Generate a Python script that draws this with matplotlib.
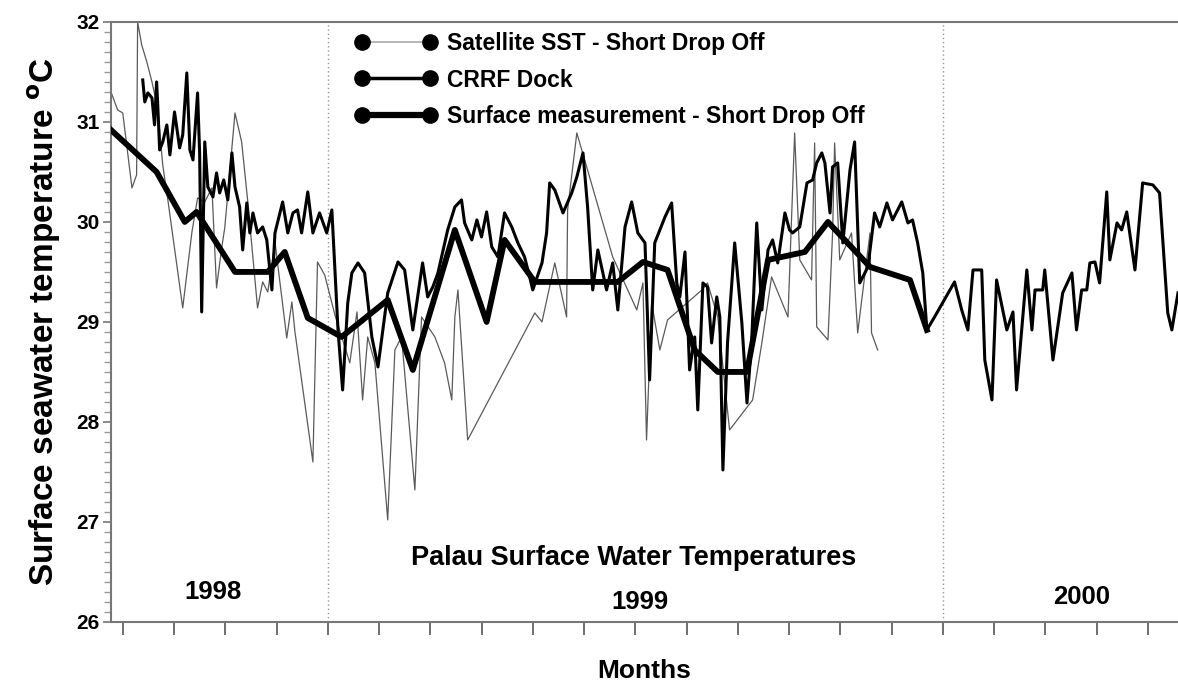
"""
Palau surface water temperatures, Sep 1998 - May 2000.
x axis is in months counted from Jan 1998 (12 = Jan 1999, 24 = Jan 2000).
"""
import matplotlib
matplotlib.use('Agg')
import matplotlib.pyplot as plt
from matplotlib.lines import Line2D
from matplotlib.ticker import MultipleLocator

plt.rcParams['font.family'] = ['Liberation Sans', 'DejaVu Sans']

# Satellite SST - Short Drop Off (thin grey)
sat_month = [7.77, 7.90, 8.00, 8.18, 8.27, 8.29, 8.37, 8.47, 8.57, 8.68, 8.78, 8.88,
             9.17, 9.35, 9.46, 9.60, 9.74, 9.83, 9.93, 9.99, 10.19, 10.32, 10.44,
             10.63, 10.73, 10.83, 10.97, 11.20, 11.30, 11.36, 11.71, 11.80, 11.94,
             12.14, 12.43, 12.57, 12.68, 12.78, 12.92, 13.17, 13.31, 13.44, 13.70,
             13.83, 14.09, 14.28, 14.42, 14.48, 14.54, 14.73, 16.04, 16.18, 16.43,
             16.66, 16.68, 16.86, 17.56, 18.03, 18.15, 18.22, 18.32, 18.48, 18.63,
             19.30, 19.41, 19.61, 19.84, 20.29, 20.47, 20.66, 20.98, 21.11, 21.21,
             21.44, 21.50, 21.54, 21.76, 21.85, 21.89, 21.99, 22.22, 22.34, 22.58,
             22.61, 22.73]
sat_temp = [31.30, 31.12, 31.09, 30.34, 30.47, 32.00, 31.77, 31.60, 31.40, 31.14, 30.57,
            30.22, 29.14, 29.90, 30.24, 30.20, 30.34, 29.34, 29.74, 29.94, 31.09, 30.80,
            30.20, 29.14, 29.40, 29.30, 29.80, 28.84, 29.20, 28.90, 27.60, 29.60, 29.47,
            29.07, 28.59, 29.10, 28.22, 28.85, 28.59, 27.02, 28.72, 28.85, 27.32, 29.05,
            28.85, 28.59, 28.22, 29.05, 29.32, 27.82, 29.09, 29.00, 29.59, 29.05, 30.12,
            30.89, 29.65, 29.12, 29.39, 27.82, 29.19, 28.72, 29.02, 29.32, 29.39, 29.05,
            27.92, 28.22, 28.79, 29.45, 29.05, 30.89, 29.62, 29.42, 30.79, 28.95, 28.82,
            29.89, 30.79, 29.62, 29.89, 28.89, 29.89, 28.89, 28.72]

# CRRF Dock (medium black)
dock_month = [8.39, 8.43, 8.49, 8.57, 8.62, 8.66, 8.68, 8.72, 8.78, 8.86, 8.92, 9.01,
              9.11, 9.17, 9.25, 9.31, 9.37, 9.46, 9.50, 9.54, 9.60, 9.66, 9.76, 9.83,
              9.89, 9.97, 10.05, 10.13, 10.19, 10.28, 10.34, 10.42, 10.48, 10.54, 10.63,
              10.73, 10.81, 10.91, 10.97, 11.12, 11.22, 11.32, 11.41, 11.49, 11.61,
              11.71, 11.84, 11.98, 12.08, 12.20, 12.29, 12.39, 12.47, 12.59, 12.72,
              12.86, 12.98, 13.17, 13.37, 13.50, 13.66, 13.85, 13.95, 14.05, 14.15,
              14.34, 14.48, 14.61, 14.67, 14.81, 14.91, 15.00, 15.10, 15.20, 15.32,
              15.45, 15.59, 15.71, 15.84, 15.94, 16.00, 16.18, 16.27, 16.33, 16.43,
              16.59, 16.76, 16.86, 16.98, 17.07, 17.17, 17.27, 17.44, 17.56, 17.66,
              17.80, 17.93, 18.05, 18.19, 18.28, 18.38, 18.58, 18.71, 18.81, 18.87,
              18.97, 19.06, 19.16, 19.22, 19.32, 19.41, 19.49, 19.59, 19.65, 19.71,
              19.80, 19.94, 20.08, 20.18, 20.27, 20.37, 20.47, 20.59, 20.68, 20.78,
              20.92, 21.01, 21.07, 21.21, 21.35, 21.46, 21.54, 21.64, 21.70, 21.80,
              21.85, 21.95, 22.05, 22.19, 22.28, 22.38, 22.54, 22.67, 22.77, 22.91,
              23.02, 23.20, 23.32, 23.41, 23.51, 23.61, 23.69, 23.84, 24.23, 24.37,
              24.49, 24.59, 24.76, 24.82, 24.96, 25.05, 25.25, 25.37, 25.44, 25.64,
              25.74, 25.80, 25.95, 25.99, 26.15, 26.34, 26.52, 26.61, 26.71, 26.81,
              26.87, 26.97, 27.06, 27.20, 27.26, 27.40, 27.49, 27.59, 27.75, 27.90,
              28.10, 28.23, 28.39, 28.47, 28.59]
dock_temp = [31.42, 31.20, 31.29, 31.24, 30.97, 31.40, 31.20, 30.72, 30.80, 30.97, 30.67,
             31.10, 30.74, 30.87, 31.49, 30.72, 30.62, 31.29, 30.69, 29.10, 30.80, 30.35,
             30.25, 30.49, 30.29, 30.42, 30.22, 30.69, 30.35, 30.15, 29.72, 30.19, 29.89,
             30.09, 29.89, 29.95, 29.82, 29.32, 29.89, 30.20, 29.89, 30.09, 30.12, 29.89,
             30.30, 29.89, 30.09, 29.89, 30.12, 28.92, 28.32, 29.19, 29.49, 29.59, 29.49,
             28.85, 28.55, 29.29, 29.60, 29.52, 28.92, 29.59, 29.25, 29.35, 29.49, 29.92,
             30.15, 30.22, 29.99, 29.82, 30.02, 29.85, 30.10, 29.75, 29.65, 30.09, 29.95,
             29.79, 29.65, 29.45, 29.32, 29.59, 29.89, 30.39, 30.32, 30.09, 30.29, 30.45,
             30.69, 30.15, 29.32, 29.72, 29.32, 29.59, 29.12, 29.95, 30.20, 29.89, 29.79,
             28.42, 29.79, 30.05, 30.19, 29.39, 29.25, 29.70, 28.52, 28.85, 28.12, 29.39,
             29.35, 28.79, 29.25, 29.05, 27.52, 28.79, 29.79, 28.99, 28.19, 28.79, 29.99,
             29.12, 29.72, 29.82, 29.59, 30.09, 29.92, 29.89, 29.95, 30.39, 30.42, 30.59,
             30.69, 30.59, 30.09, 30.55, 30.59, 29.79, 30.52, 30.80, 29.39, 29.55, 30.09,
             29.95, 30.19, 30.02, 30.20, 29.99, 30.02, 29.79, 29.49, 28.92, 29.05, 29.40,
             29.12, 28.92, 29.52, 29.52, 28.62, 28.22, 29.42, 28.92, 29.10, 28.32, 29.52,
             28.92, 29.32, 29.32, 29.52, 28.62, 29.29, 29.49, 28.92, 29.32, 29.32, 29.59,
             29.60, 29.39, 30.30, 29.62, 29.99, 29.92, 30.10, 29.52, 30.39, 30.37, 30.29,
             29.09, 28.92, 29.29]

# Surface measurement - Short Drop Off (thick black)
surf_month = [7.77, 8.66, 9.21, 9.44, 10.19, 10.83, 11.16, 11.61, 12.27, 13.17, 13.66,
              14.48, 15.10, 15.45, 16.04, 17.66, 18.15, 18.63, 19.16, 19.61, 20.18,
              20.59, 21.31, 21.76, 22.58, 23.36, 23.69]
surf_temp = [30.92, 30.50, 30.00, 30.10, 29.50, 29.50, 29.70, 29.04, 28.85, 29.22, 28.52,
             29.92, 29.00, 29.82, 29.40, 29.40, 29.60, 29.52, 28.72, 28.50, 28.50,
             29.62, 29.70, 30.00, 29.55, 29.42, 28.92]

year_labels = ['1998', '1999', '2000']
year_pos = [(9.76, 26.30), (18.09, 26.20), (26.71, 26.25)]
year_breaks = [12, 24]
month_ticks = list(range(8, 29))

fig = plt.figure(figsize=(11.78, 6.81), dpi=100)
ax = fig.add_axes([0.0942, 0.0867, 0.9058, 0.8811])

ax.plot(sat_month, sat_temp, color='#5a5a5a', lw=0.9, zorder=2)
ax.plot(dock_month, dock_temp, color='black', lw=2.2, zorder=3)
ax.plot(surf_month, surf_temp, color='black', lw=4.2, zorder=4)

for xb in year_breaks:
    ax.axvline(xb, color='#999999', lw=1, ls=(0, (1, 2)), zorder=1)

ax.set_xlim(7.77, 28.59)
ax.set_ylim(26, 32)
ax.set_xticks(month_ticks)
ax.set_xticklabels([])
ax.tick_params(axis='x', direction='out', length=9, width=1.2, color='#555555')
ax.yaxis.set_major_locator(MultipleLocator(1))
ax.yaxis.set_minor_locator(MultipleLocator(0.1))
ax.tick_params(axis='y', which='major', direction='out', length=6, width=1.2,
               color='#777777', labelsize=15, pad=2)
ax.tick_params(axis='y', which='minor', direction='out', length=5, width=1,
               color='#999999')
for lab in ax.get_yticklabels():
    lab.set_fontweight('bold')

for side in ['left', 'bottom', 'top']:
    ax.spines[side].set_color('#777777')
    ax.spines[side].set_linewidth(1.5)
ax.spines['right'].set_visible(False)

for lab, (xm, yt) in zip(year_labels, year_pos):
    ax.text(xm, yt, lab, ha='center', va='center', fontsize=18.5, fontweight='bold')
ax.text(17.97, 26.64, 'Palau Surface Water Temperatures', ha='center', va='center',
        fontsize=19.5, fontweight='bold')

ax.set_xlabel('Months', fontsize=19, fontweight='bold', labelpad=14)
ax.set_ylabel('Surface seawater temperature $\\mathbf{^{o}}$C', fontsize=24,
              fontweight='bold', labelpad=10)

handles = [
    Line2D([], [], color='#aaaaaa', lw=1.2, marker='o', markersize=11,
           markerfacecolor='black', markeredgecolor='black'),
    Line2D([], [], color='black', lw=2.5, marker='o', markersize=11,
           markerfacecolor='black', markeredgecolor='black'),
    Line2D([], [], color='black', lw=4.5, marker='o', markersize=11,
           markerfacecolor='black', markeredgecolor='black'),
]
names = ['Satellite SST - Short Drop Off', 'CRRF Dock',
         'Surface measurement - Short Drop Off']
leg = ax.legend(handles, names, loc='upper left', bbox_to_anchor=(0.229, 0.984),
                frameon=False, numpoints=2, handlelength=3.57, handletextpad=0.44,
                labelspacing=0.61, borderpad=0, borderaxespad=0,
                prop={'size': 16.5, 'weight': 'bold'})

fig.savefig('out.png', dpi=100)
